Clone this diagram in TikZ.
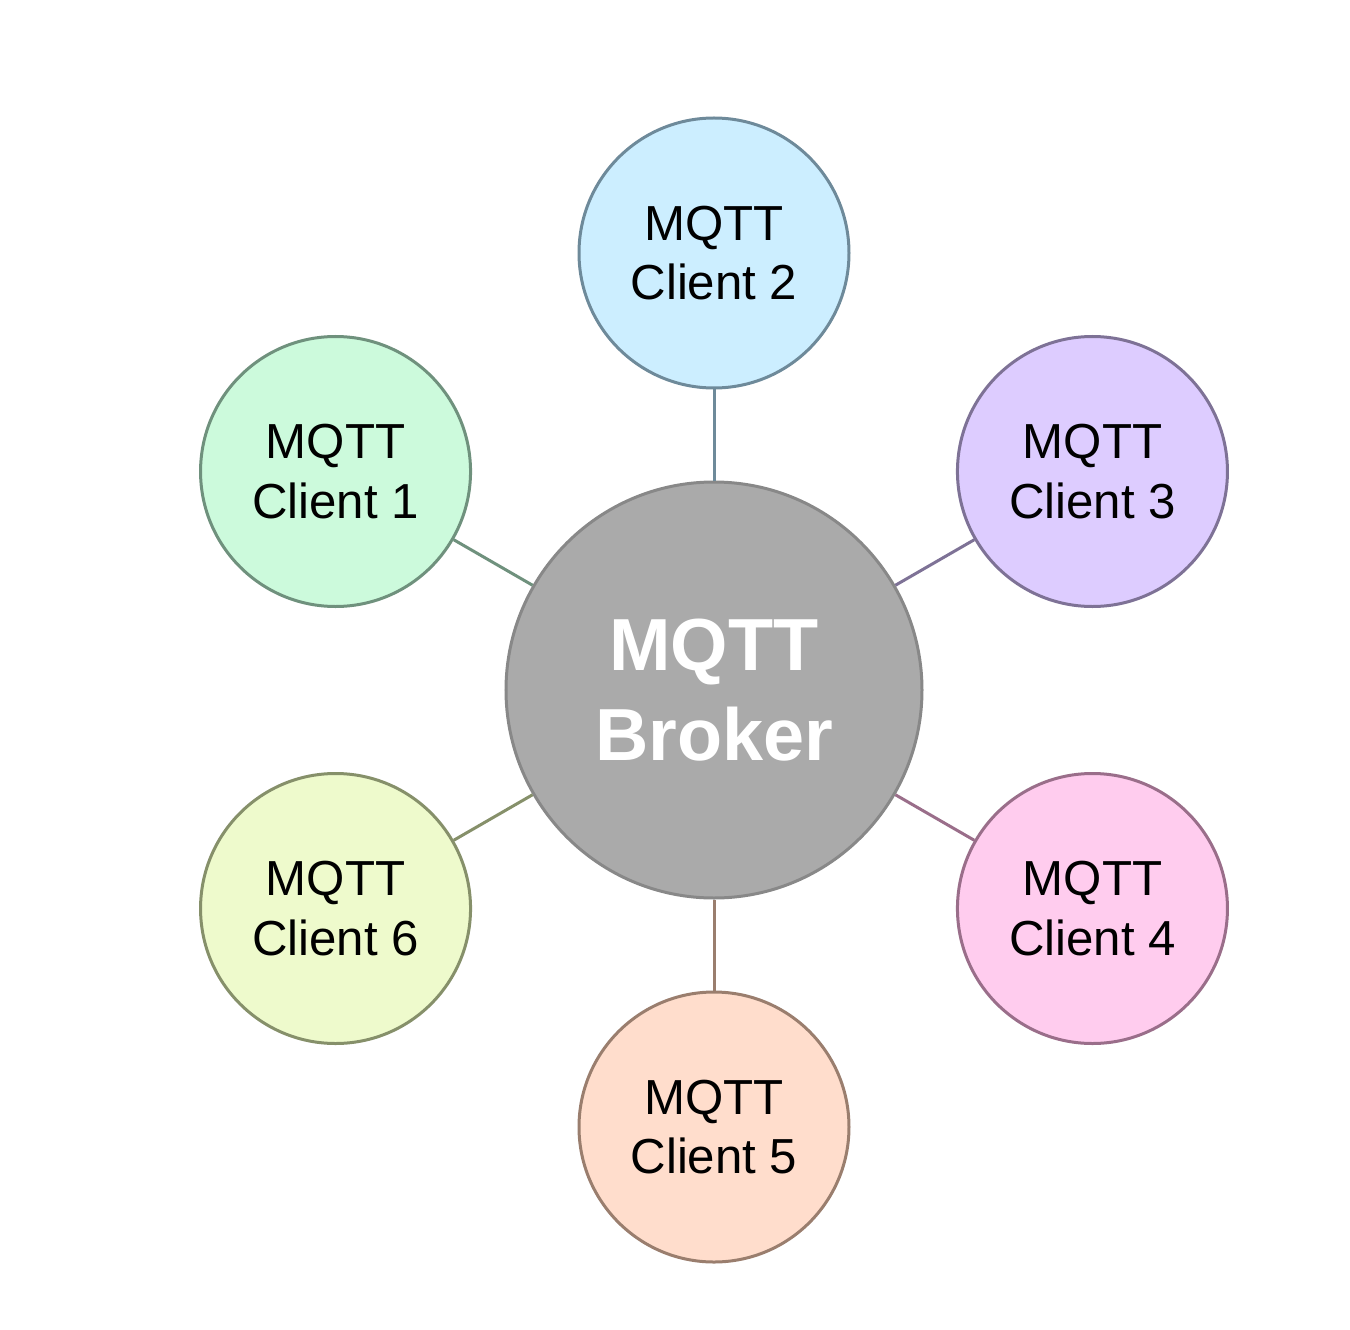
\documentclass[tikz,border=0pt]{standalone}
\usepackage{fontspec}
\setmainfont{Liberation Sans}
\usepackage{tikz}
\usetikzlibrary{math}
\usetikzlibrary{calc}

% colours of the clients (fill and border)
\definecolor{fillone}{HTML}{CCFADC}   \definecolor{lineone}{HTML}{6F917D}
\definecolor{filltwo}{HTML}{CCEEFF}   \definecolor{linetwo}{HTML}{6E8A9A}
\definecolor{fillthree}{HTML}{DDCCFF} \definecolor{linethree}{HTML}{7E7296}
\definecolor{fillfour}{HTML}{FFCCEE}  \definecolor{linefour}{HTML}{9A6E8A}
\definecolor{fillfive}{HTML}{FFDDCC}  \definecolor{linefive}{HTML}{9A7E6E}
\definecolor{fillsix}{HTML}{EEFACC}   \definecolor{linesix}{HTML}{86906A}
\definecolor{fillbroker}{HTML}{AAAAAA}\definecolor{linebroker}{HTML}{888888}

\tikzset{
  client/.style={circle, minimum size=5.4cm, inner sep=0pt, line width=0.06cm,
    align=center, font=\fontsize{28}{34}\selectfont},
  broker/.style={circle, minimum size=8.32cm, inner sep=0pt, line width=0.06cm,
    align=center, text=white, font=\fontsize{42}{51}\selectfont\bfseries,
    draw=linebroker, fill=fillbroker},
  link/.style={line width=0.06cm},
}

\begin{document}
\begin{tikzpicture}

  \tikzmath{
    \dist = 8.74; % distance broker - client
  }

  % page size of the reference
  \useasboundingbox (-14.28, -12.78) rectangle (12.72, 13.8);

  % broker in the middle
  \node[broker] (broker) at (0, 0) {MQTT\\Broker};

  % clients on a hexagon around the broker
  \node[client, draw=lineone,   fill=fillone]   (c1) at (150:\dist) {MQTT\\Client 1};
  \node[client, draw=linetwo,   fill=filltwo]   (c2) at (90:\dist)  {MQTT\\Client 2};
  \node[client, draw=linethree, fill=fillthree] (c3) at (30:\dist)  {MQTT\\Client 3};
  \node[client, draw=linefour,  fill=fillfour]  (c4) at (-30:\dist) {MQTT\\Client 4};
  \node[client, draw=linefive,  fill=fillfive]  (c5) at (-90:\dist) {MQTT\\Client 5};
  \node[client, draw=linesix,   fill=fillsix]   (c6) at (210:\dist) {MQTT\\Client 6};

  % links broker - clients
  \draw[link, draw=lineone]   (broker) -- (c1);
  \draw[link, draw=linetwo]   (broker) -- (c2);
  \draw[link, draw=linethree] (broker) -- (c3);
  \draw[link, draw=linefour]  (broker) -- (c4);
  \draw[link, draw=linefive]  (broker) -- (c5);
  \draw[link, draw=linesix]   (broker) -- (c6);

\end{tikzpicture}
\end{document}
